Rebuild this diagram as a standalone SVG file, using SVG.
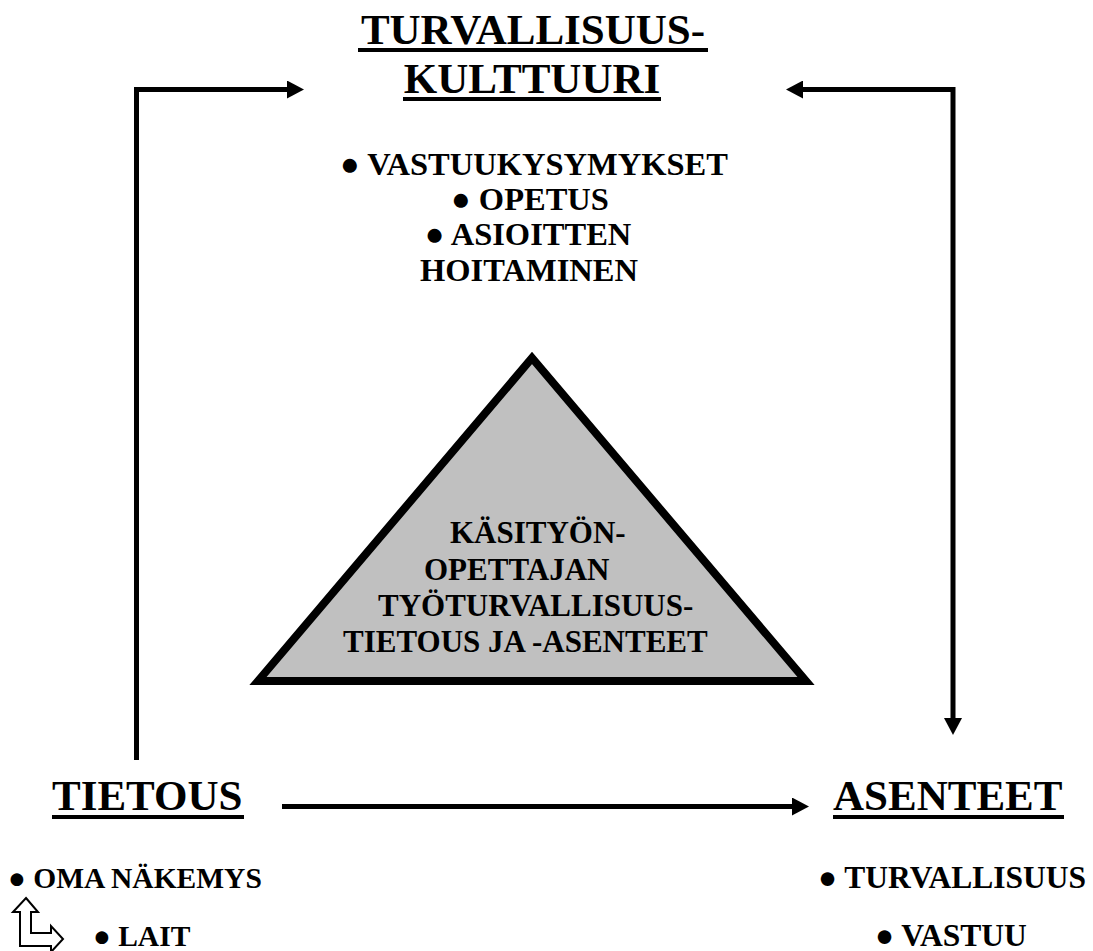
<svg xmlns="http://www.w3.org/2000/svg" width="1093" height="951" viewBox="0 0 1093 951">
  <style>
    text { font-family: "Liberation Serif", "Times New Roman", "DejaVu Serif", serif; font-weight: bold; fill: #000; }
    .title { font-size: 43px; }
    .item { font-size: 32.5px; }
    .itemL { font-size: 29.5px; }
    .itemR { font-size: 31.5px; }
    .tri { font-size: 31px; }
    .conn { fill: none; stroke: #000; stroke-width: 5; stroke-linejoin: miter; }
    .ul { fill: #000; }
  </style>
  <defs>
    <marker id="arrow" viewBox="0 -9 17 18" refX="1" refY="0" markerWidth="17" markerHeight="18" markerUnits="userSpaceOnUse" orient="auto-start-reverse">
      <path d="M0,-9 L17,0 L0,9 Z" fill="#000"/>
    </marker>
  </defs>
  <rect width="1093" height="951" fill="#fff"/>

  <g id="connectors">
    <path class="conn" d="M136.5,760 V89.5 H288" marker-end="url(#arrow)"/>
    <path class="conn" d="M802,89.5 H953 V719" marker-start="url(#arrow)" marker-end="url(#arrow)"/>
    <path class="conn" d="M282,806.5 H793" marker-end="url(#arrow)"/>
  </g>

  <g id="turvallisuuskulttuuri">
    <text class="title" x="533" y="44" text-anchor="middle">TURVALLISUUS-</text>
    <rect class="ul" x="358" y="48" width="350" height="4"/>
    <text class="title" x="532" y="93" text-anchor="middle">KULTTUURI</text>
    <rect class="ul" x="403" y="97" width="258" height="4"/>
    <text class="item" x="534" y="175" text-anchor="middle">● VASTUUKYSYMYKSET</text>
    <text class="item" x="530" y="210" text-anchor="middle">● OPETUS</text>
    <text class="item" x="528" y="245" text-anchor="middle">● ASIOITTEN</text>
    <text class="item" x="529" y="281" text-anchor="middle">HOITAMINEN</text>
  </g>

  <g id="triangle">
    <polygon points="258,681 532,358 806,681" fill="#c0c0c0" stroke="#000" stroke-width="8" stroke-linejoin="miter"/>
    <text class="tri" x="450" y="543">KÄSITYÖN-</text>
    <text class="tri" x="424" y="580">OPETTAJAN</text>
    <text class="tri" x="378" y="616">TYÖTURVALLISUUS-</text>
    <text class="tri" x="343" y="652">TIETOUS JA -ASENTEET</text>
  </g>

  <g id="tietous">
    <text class="title" x="52" y="810">TIETOUS</text>
    <rect class="ul" x="52" y="815" width="192" height="4"/>
    <text class="itemL" x="8" y="888">● OMA NÄKEMYS</text>
    <path d="M26,898 L38,912 L31,912 L31,933 L51,933 L51,926 L63,939 L51,952 L51,946 L20,946 L20,912 L13,912 Z" fill="#fff" stroke="#000" stroke-width="2" stroke-linejoin="miter"/>
    <text class="itemL" x="93" y="946">● LAIT</text>
  </g>

  <g id="asenteet">
    <text class="title" x="833" y="810">ASENTEET</text>
    <rect class="ul" x="833" y="815" width="231" height="4"/>
    <text class="itemR" x="818" y="888">● TURVALLISUUS</text>
    <text class="itemR" x="875" y="946">● VASTUU</text>
  </g>
</svg>
